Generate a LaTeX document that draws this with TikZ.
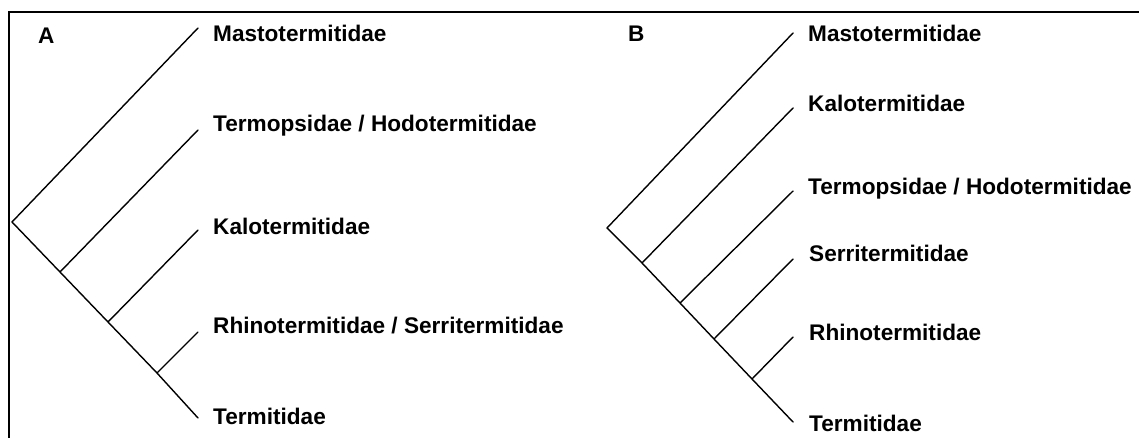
\documentclass[tikz,border=0pt]{standalone}
\usepackage{fontspec}
\setmainfont{Liberation Sans}
\begin{document}
\begin{tikzpicture}[x=1pt,y=-1pt,
  branch/.style={line width=1.4pt, line cap=round, black},
  frameline/.style={line width=2.2pt, black},
  taxon/.style={anchor=base west, inner sep=0pt, font=\fontsize{22.6}{27}\selectfont\bfseries},
  panel/.style={anchor=base west, inner sep=0pt, font=\fontsize{22.6}{27}\selectfont\bfseries}]
\useasboundingbox (0,0) rectangle (1139,438);
% frame
\coordinate (fTL) at (9,12);
\coordinate (fTR) at (1139,12);
\coordinate (fBL) at (9,438);
\draw[frameline] (fTR) -- (fTL) -- (fBL);

% ---------- Tree A ----------
\node[panel] (labA) at (38,44) {A};
\coordinate (rA) at (12,222);
\coordinate (nA1) at (60,272);
\coordinate (nA2) at (108,322);
\coordinate (nA3) at (157,373);
\coordinate (tA1) at (198,28);
\coordinate (tA2) at (198,130);
\coordinate (tA3) at (198,230);
\coordinate (tA4) at (198,332);
\coordinate (tA5) at (198,418);
\draw[branch] (tA1) -- (rA) -- (nA1) -- (nA2) -- (nA3) -- (tA5);
\draw[branch] (nA1) -- (tA2);
\draw[branch] (nA2) -- (tA3);
\draw[branch] (nA3) -- (tA4);
\node[taxon] (xA1) at (213,42) {Mastotermitidae};
\node[taxon] (xA2) at (213,132) {Termopsidae / Hodotermitidae};
\node[taxon] (xA3) at (213,235) {Kalotermitidae};
\node[taxon] (xA4) at (213,333) {Rhinotermitidae / Serritermitidae};
\node[taxon] (xA5) at (213,424) {Termitidae};

% ---------- Tree B ----------
\node[panel] (labB) at (628,42) {B};
\coordinate (rB) at (607,228);
\coordinate (nB1) at (642,263);
\coordinate (nB2) at (680,303);
\coordinate (nB3) at (714,339);
\coordinate (nB4) at (752,379);
\coordinate (tB1) at (793,33);
\coordinate (tB2) at (793,108);
\coordinate (tB3) at (793,191);
\coordinate (tB4) at (793,259);
\coordinate (tB5) at (793,337);
\coordinate (tB6) at (793,422);
\draw[branch] (tB1) -- (rB) -- (nB1) -- (nB2) -- (nB3) -- (nB4) -- (tB6);
\draw[branch] (nB1) -- (tB2);
\draw[branch] (nB2) -- (tB3);
\draw[branch] (nB3) -- (tB4);
\draw[branch] (nB4) -- (tB5);
\node[taxon] (xB1) at (808,42) {Mastotermitidae};
\node[taxon] (xB2) at (808,112) {Kalotermitidae};
\node[taxon] (xB3) at (808,195) {Termopsidae / Hodotermitidae};
\node[taxon] (xB4) at (809,261) {Serritermitidae};
\node[taxon] (xB5) at (809,340) {Rhinotermitidae};
\node[taxon] (xB6) at (809,431) {Termitidae};
\end{tikzpicture}
\end{document}
